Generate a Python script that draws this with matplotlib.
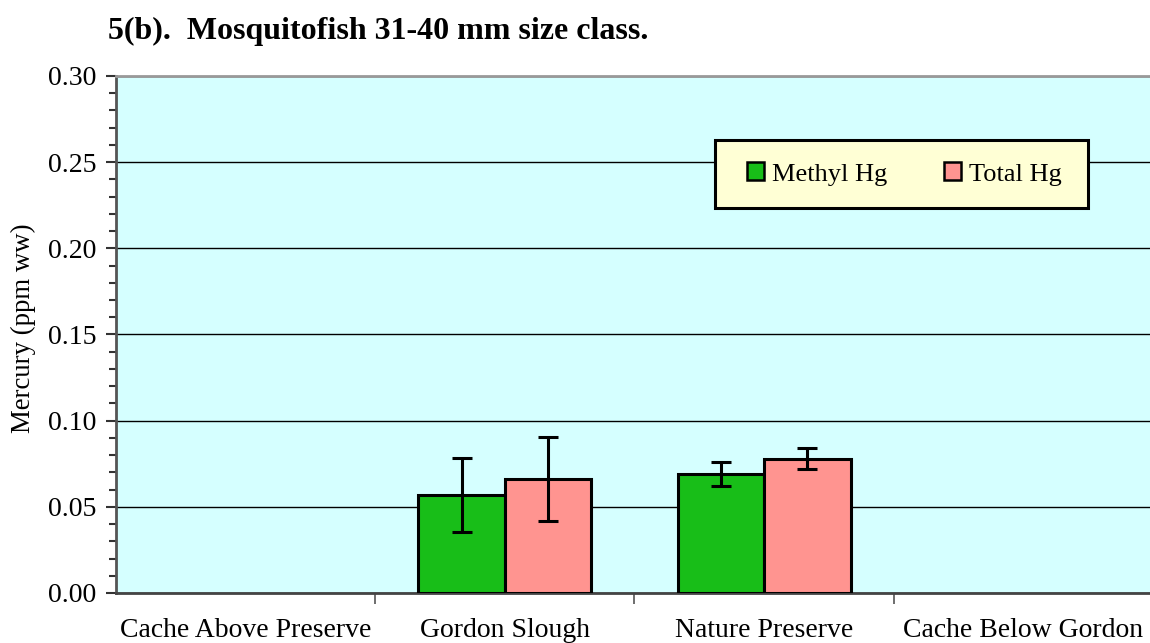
import matplotlib
matplotlib.use("Agg")
import matplotlib.pyplot as plt
import numpy as np
from matplotlib.ticker import MultipleLocator, FormatStrFormatter
from matplotlib.patches import Patch, Rectangle

categories = ["Cache Above Preserve", "Gordon Slough", "Nature Preserve", "Cache Below Gordon"]
methyl = [np.nan, 0.057, 0.069, np.nan]
methyl_err = [np.nan, 0.0215, 0.007, np.nan]
total = [np.nan, 0.066, 0.078, np.nan]
total_err = [np.nan, 0.0243, 0.006, np.nan]

W, H = 1150, 643
fig = plt.figure(figsize=(W / 100, H / 100), dpi=100)
plt.rcParams['font.family'] = ['Liberation Serif', 'DejaVu Serif']

left, right, top, bottom = 116, 1153, 76, 593
aw, ah = right - left, bottom - top
ax = fig.add_axes([left / W, 1 - bottom / H, aw / W, ah / H])
ax.set_facecolor('#D5FFFF')

x = np.arange(len(categories))
bw = 1 / 3
ax.bar(x - bw / 2, methyl, bw, color='#18BE18', edgecolor='black', linewidth=2.2, zorder=3)
ax.bar(x + bw / 2, total, bw, color='#FF9490', edgecolor='black', linewidth=2.2, zorder=3)
ax.errorbar(x - bw / 2, methyl, yerr=methyl_err, fmt='none', ecolor='black',
            elinewidth=2.2, capsize=7, capthick=2.2, zorder=4)
ax.errorbar(x + bw / 2, total, yerr=total_err, fmt='none', ecolor='black',
            elinewidth=2.2, capsize=7, capthick=2.2, zorder=4)

ax.set_xlim(-0.5, 3.5)
ax.set_ylim(0, 0.30)
ax.yaxis.set_major_locator(MultipleLocator(0.05))
ax.yaxis.set_minor_locator(MultipleLocator(0.01))
ax.yaxis.set_major_formatter(FormatStrFormatter('%.2f'))
ax.grid(axis='y', which='major', color='black', linewidth=1, zorder=1)
ax.set_axisbelow(True)

ax.set_xticks(x)
ax.set_xticklabels(categories, fontsize=20)
ax.tick_params(axis='x', which='major', length=0, pad=18)
ax.set_xticks(np.arange(0.5, 3.5, 1), minor=True)
ax.tick_params(axis='x', which='minor', length=8, width=1.2, color='#555555', direction='out')
ax.tick_params(axis='y', which='major', length=7, width=1.5, labelsize=20, color='#333333', pad=7)
ax.tick_params(axis='y', which='minor', length=5, width=1.5, color='#333333')

ax.spines['left'].set_color('#555555')
ax.spines['left'].set_linewidth(2)
ax.spines['bottom'].set_color('#444444')
ax.spines['bottom'].set_linewidth(2)
ax.spines['top'].set_color('#999999')
ax.spines['top'].set_linewidth(2)
ax.spines['right'].set_visible(False)

ax.set_ylabel('Mercury (ppm ww)', fontsize=19.3)
ax.yaxis.set_label_coords((36 - left) / aw, 1 - (328 - top) / ah)

fig.text(108 / W, 1 - 31 / H, '5(b).  Mosquitofish 31-40 mm size class.',
         fontsize=23, fontweight='bold', va='center', ha='left')

# legend frame
lx0, lx1, ly0, ly1 = 715, 1088, 140, 208
frame = Rectangle(((lx0 - left) / aw, 1 - (ly1 - top) / ah), (lx1 - lx0) / aw, (ly1 - ly0) / ah,
                  transform=ax.transAxes, facecolor='#FFFFD5', edgecolor='black',
                  linewidth=2.2, zorder=5)
ax.add_patch(frame)

handles = [Patch(facecolor='#18BE18', edgecolor='black', linewidth=1.8),
           Patch(facecolor='#FF9490', edgecolor='black', linewidth=1.8)]
leg = ax.legend(handles, ['Methyl Hg', 'Total Hg'], ncol=2, fontsize=19,
                loc='center', bbox_to_anchor=((904 - left) / aw, 1 - (174 - top) / ah),
                frameon=False, handlelength=0.65, handleheight=0.65, handletextpad=0.3,
                columnspacing=2.15, borderpad=0, borderaxespad=0)
leg.set_zorder(6)

fig.savefig('out.png', dpi=100)
